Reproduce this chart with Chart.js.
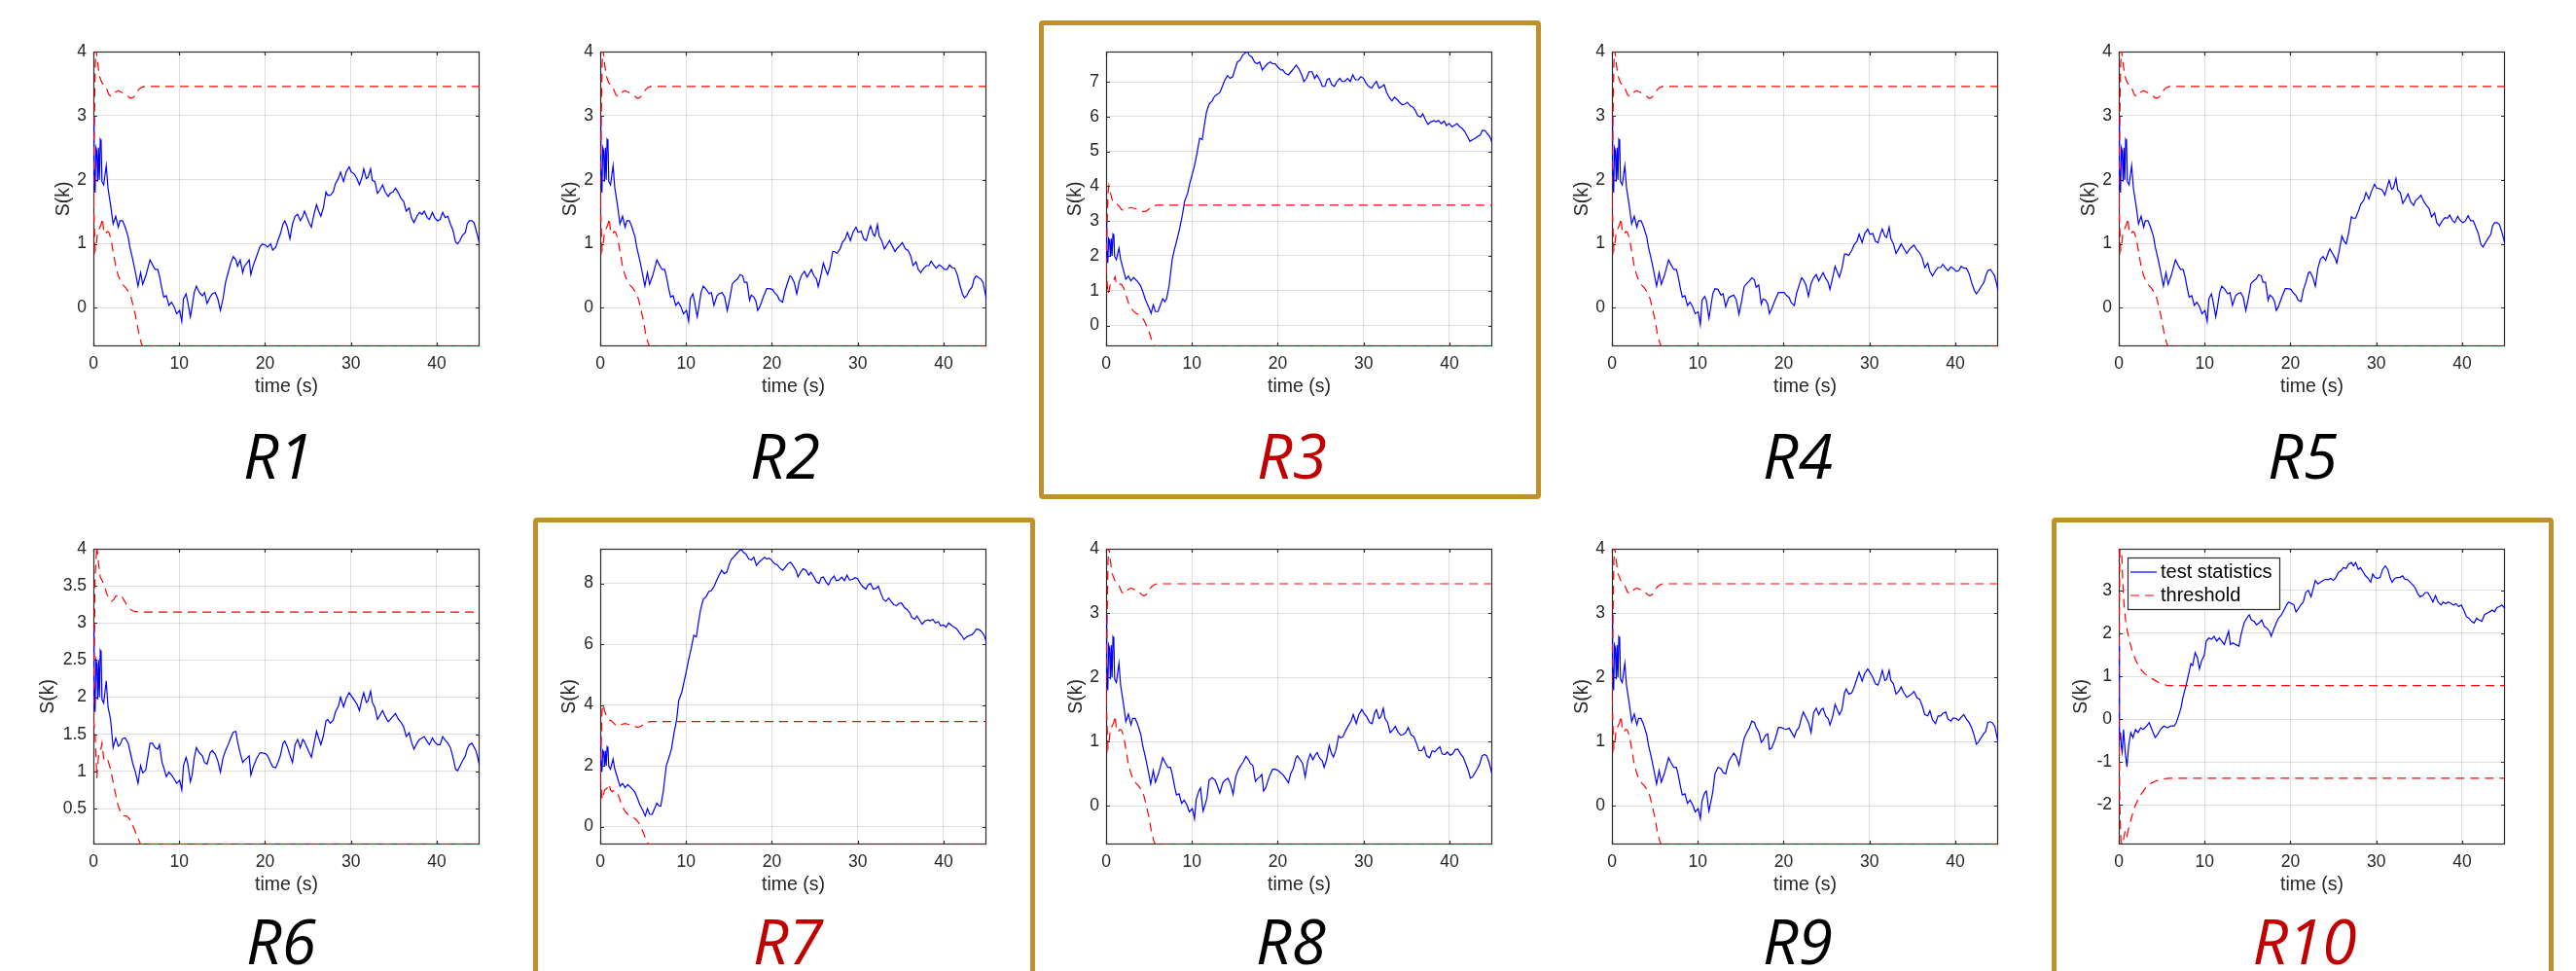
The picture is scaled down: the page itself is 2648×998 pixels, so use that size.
<!DOCTYPE html>
<html><head><meta charset="utf-8">
<script src="https://cdn.jsdelivr.net/npm/chart.js@4.4.0/dist/chart.umd.min.js"></script>
<style>
html,body{margin:0;padding:0;background:#fff;}
body{width:2648px;height:998px;position:relative;overflow:hidden;}
canvas{position:absolute;}
.box{position:absolute;border:5px solid #BF912D;border-radius:4px;box-sizing:border-box;}
.lbl{position:absolute;font-family:'Open Sans',sans-serif;font-style:italic;font-size:64px;line-height:64px;white-space:nowrap;transform:translateX(-50%);}
</style></head><body>
<script>
// ---------- axis ticks ----------
const xTicks = [0,10,20,30,40];
const yTicksA = [0,1,2,3,4];
const yTicksR3 = [0,1,2,3,4,5,6,7];
const yTicksR6 = [0.5,1,1.5,2,2.5,3,3.5,4];
const yTicksR7 = [0,2,4,6,8];
const yTicksR10 = [-2,-1,0,1,2,3];

// ---------- time grids (s) ----------
const timeA = [0,0.05,0.1,0.2,0.3,0.4,0.5,0.6,0.7,0.8,
0.9,1.0,1.2,1.5,1.7,2.0,2.3,2.6,2.9,3.1,
3.4,3.7,4.05,4.25,4.6,4.9,5.2,5.5,5.75,6.1,
6.6,6.9,7.2,7.5,7.7,8.0,8.2,8.5,8.8,9.1,
9.4,9.7,10.05,10.3,10.5,10.8,11.0,11.3,11.5,11.75,
12.0,12.35,12.7,12.95,13.25,13.6,13.85,14.2,14.5,14.8,
15.1,15.4,15.7,16.0,16.3,16.6,16.8,17.1,17.4,17.6,
17.9,18.15,18.35,18.6,19.0,19.4,19.7,20.05,20.3,20.65,
20.9,21.25,21.5,21.8,22.1,22.3,22.6,22.9,23.2,23.5,
23.8,24.1,24.4,24.6,24.9,25.2,25.4,25.7,26.0,26.25,
26.5,26.8,27.1,27.3,27.6,27.95,28.2,28.55,28.8,29.15,
29.45,29.8,30.05,30.4,30.7,31.0,31.3,31.5,31.8,32.0,
32.3,32.5,32.8,33.1,33.4,33.7,34.0,34.35,34.6,34.9,
35.2,35.55,35.85,36.15,36.45,36.8,37.05,37.35,37.7,38.0,
38.3,38.55,38.9,39.15,39.5,39.75,40.1,40.4,40.7,41.0,
41.3,41.6,41.9,42.2,42.45,42.7,43.0,43.35,43.55,43.8,
44.1,44.35,44.6,45.0];

const timeD = [0,0.05,0.1,0.2,0.3,0.4,0.5,0.6,0.7,0.8,
0.9,1.0,1.2,1.5,1.7,2.0,2.3,2.6,2.9,3.2,
3.6,4.0,4.3,4.6,4.95,5.25,5.5,5.75,6.05,6.25,
6.6,6.85,7.05,7.35,7.7,7.95,8.3,8.6,8.9,9.15,
9.5,9.75,10.0,10.3,10.6,10.9,11.2,11.45,11.7,12.0,
12.35,12.65,12.95,13.25,13.55,13.85,14.15,14.45,14.75,15.05,
15.3,15.6,15.9,16.2,16.45,16.7,17.0,17.3,17.6,17.9,
18.2,18.5,18.8,19.15,19.4,19.7,20.0,20.35,20.6,20.9,
21.25,21.55,21.85,22.15,22.45,22.8,23.05,23.35,23.65,24.0,
24.3,24.55,24.9,25.2,25.5,25.75,26.0,26.3,26.6,26.9,
27.25,27.5,27.8,28.15,28.45,28.75,29.05,29.4,29.7,30.0,
30.3,30.6,30.95,31.2,31.5,31.8,32.15,32.4,32.7,33.0,
33.3,33.6,33.9,34.2,34.55,34.8,35.1,35.45,35.75,36.05,
36.3,36.65,36.9,37.25,37.5,37.85,38.2,38.45,38.75,39.05,
39.4,39.65,40.0,40.3,40.6,40.9,41.2,41.5,41.8,42.1,
42.4,42.7,43.05,43.3,43.6,43.85,44.15,44.4,44.7,45.0];

const timeE = [0,0.05,0.1,0.2,0.3,0.4,0.55,0.75,0.95,1.15,
1.4,1.65,1.95,2.25,2.55,2.85,3.25,3.55,3.85,4.25,
4.55,4.85,5.25,5.65,6.05,6.45,6.7,6.95,7.25,7.5,
7.8,8.15,8.4,8.6,8.9,9.15,9.4,9.65,9.95,10.2,
10.5,10.8,11.1,11.4,11.7,12.0,12.3,12.6,12.8,13.0,
13.3,13.6,14.0,14.25,14.6,14.9,15.2,15.45,15.75,16.05,
16.35,16.65,16.95,17.25,17.55,17.75,18.05,18.35,18.6,18.95,
19.25,19.55,19.8,20.15,20.4,20.65,20.95,21.2,21.5,21.8,
22.1,22.4,22.65,22.9,23.2,23.5,23.8,24.1,24.4,24.7,
25.0,25.3,25.6,25.9,26.15,26.5,26.75,27.1,27.35,27.6,
27.9,28.15,28.5,28.75,29.05,29.35,29.6,29.85,30.15,30.45,
30.75,31.05,31.35,31.6,31.85,32.15,32.45,32.75,33.05,33.35,
33.65,33.95,34.25,34.5,34.85,35.1,35.45,35.7,36.0,36.3,
36.6,36.9,37.2,37.55,37.8,38.1,38.4,38.75,39.0,39.3,
39.6,39.9,40.2,40.5,40.8,41.1,41.4,41.7,42.0,42.3,
42.6,42.9,43.2,43.5,43.8,44.05,44.35,44.65,45.0];

// ---------- test statistics ----------
const statR1 = [2.3,2.98,2.2,1.8,2.5,2.45,1.97,2.5,2.0,2.63,
2.6,1.97,1.92,2.22,1.87,1.61,1.31,1.43,1.26,1.36,
1.36,1.26,1.11,0.95,0.75,0.55,0.34,0.55,0.37,0.50,
0.75,0.67,0.60,0.60,0.50,0.29,0.17,0.19,0.04,0.09,
0.02,-0.09,-0.04,-0.21,0.14,0.22,0.09,-0.14,0.02,0.24,
0.34,0.24,0.19,0.24,0.07,0.17,0.22,0.24,0.14,-0.04,
0.14,0.40,0.55,0.70,0.80,0.75,0.65,0.75,0.55,0.65,
0.70,0.75,0.52,0.65,0.80,0.95,1.00,0.98,0.95,1.00,
0.90,0.95,1.05,1.16,1.31,1.36,1.26,1.08,1.31,1.43,
1.46,1.36,1.43,1.51,1.41,1.31,1.26,1.46,1.61,1.51,
1.43,1.56,1.81,1.76,1.76,1.81,1.94,2.02,2.12,1.97,
2.12,2.20,2.12,2.09,2.02,1.92,2.04,2.17,2.02,2.04,
2.17,1.99,1.97,1.79,1.84,1.92,1.81,1.74,1.79,1.81,
1.87,1.79,1.71,1.66,1.51,1.56,1.41,1.33,1.43,1.49,
1.46,1.51,1.41,1.38,1.49,1.41,1.36,1.38,1.49,1.41,
1.43,1.31,1.21,1.03,1.00,1.05,1.13,1.18,1.31,1.36,
1.36,1.33,1.21,1.00];

const statR2 = [2.3,2.98,2.2,1.8,2.5,2.45,1.97,2.5,2.0,2.63,
2.6,1.97,1.92,2.22,1.87,1.61,1.31,1.43,1.26,1.36,
1.36,1.26,1.11,0.95,0.75,0.55,0.34,0.55,0.37,0.50,
0.75,0.67,0.60,0.60,0.50,0.29,0.17,0.19,0.04,0.09,
0.02,-0.09,-0.04,-0.21,0.14,0.22,0.09,-0.14,0.02,0.24,
0.34,0.29,0.22,0.24,0.04,0.19,0.22,0.24,0.17,-0.04,
0.15,0.38,0.42,0.45,0.52,0.50,0.40,0.40,0.12,0.20,
0.17,0.10,-0.04,0.02,0.17,0.30,0.30,0.29,0.24,0.19,
0.12,0.09,0.25,0.38,0.50,0.48,0.40,0.22,0.42,0.52,
0.57,0.48,0.55,0.60,0.50,0.45,0.33,0.50,0.70,0.60,
0.52,0.66,0.88,0.88,0.85,0.92,1.02,1.08,1.18,1.05,
1.18,1.26,1.18,1.20,1.08,1.05,1.20,1.28,1.15,1.12,
1.30,1.12,1.05,0.92,0.98,1.05,0.97,0.88,0.93,0.97,
1.02,0.92,0.90,0.82,0.66,0.72,0.60,0.55,0.62,0.66,
0.66,0.73,0.66,0.62,0.67,0.65,0.60,0.60,0.67,0.63,
0.62,0.52,0.36,0.22,0.16,0.19,0.27,0.33,0.45,0.50,
0.47,0.45,0.40,0.14];

const statR3 = [2.3,2.98,2.2,1.8,2.5,2.45,1.97,2.5,2.0,2.63,
2.6,1.98,1.89,2.22,1.89,1.61,1.33,1.42,1.28,1.38,
1.28,1.15,0.96,0.73,0.54,0.35,0.59,0.40,0.40,0.54,
0.77,0.68,0.77,1.15,1.89,2.17,2.50,2.82,3.19,3.57,
3.80,4.08,4.31,4.59,4.96,5.38,5.34,5.75,6.13,6.36,
6.45,6.59,6.64,6.69,6.87,7.06,7.18,7.10,7.15,7.38,
7.57,7.62,7.76,7.83,7.87,7.76,7.71,7.57,7.52,7.57,
7.34,7.43,7.52,7.57,7.52,7.52,7.43,7.34,7.34,7.24,
7.20,7.29,7.38,7.48,7.38,7.20,7.01,7.10,7.29,7.29,
7.10,7.20,7.06,6.87,6.87,7.06,7.10,6.92,6.87,7.01,
7.10,7.01,7.01,7.10,7.01,7.20,7.06,7.06,7.15,7.10,
6.96,6.87,6.82,6.92,7.01,6.82,6.87,6.92,6.69,6.55,
6.45,6.56,6.50,6.41,6.34,6.36,6.41,6.31,6.27,6.17,
6.03,5.99,6.08,5.89,5.78,5.85,5.89,5.85,5.89,5.80,
5.87,5.75,5.80,5.71,5.75,5.80,5.71,5.66,5.57,5.43,
5.29,5.34,5.38,5.43,5.47,5.61,5.60,5.52,5.43,5.24];

const statR4 = [2.3,2.98,2.2,1.8,2.5,2.45,1.97,2.5,2.0,2.63,
2.6,1.97,1.92,2.22,1.87,1.61,1.31,1.43,1.26,1.36,
1.36,1.26,1.11,0.95,0.75,0.55,0.34,0.55,0.37,0.50,
0.75,0.67,0.60,0.60,0.50,0.29,0.17,0.19,0.04,0.09,
0.02,-0.09,-0.06,-0.26,0.12,0.18,0.12,-0.16,0.00,0.22,
0.30,0.29,0.20,0.22,0.02,0.16,0.18,0.20,0.12,-0.10,
0.10,0.33,0.38,0.42,0.47,0.44,0.32,0.36,0.06,0.14,
0.12,0.06,-0.09,-0.02,0.12,0.24,0.24,0.24,0.20,0.16,
0.08,0.04,0.22,0.35,0.47,0.44,0.36,0.18,0.38,0.47,
0.52,0.42,0.50,0.55,0.46,0.40,0.29,0.46,0.65,0.56,
0.48,0.62,0.84,0.84,0.82,0.90,0.98,1.04,1.15,1.02,
1.16,1.23,1.15,1.16,1.04,1.02,1.16,1.23,1.12,1.10,
1.26,1.08,1.00,0.85,0.92,1.00,0.93,0.85,0.90,0.95,
0.98,0.90,0.86,0.78,0.63,0.70,0.57,0.50,0.58,0.63,
0.63,0.68,0.62,0.58,0.64,0.62,0.57,0.58,0.65,0.62,
0.62,0.54,0.40,0.28,0.22,0.26,0.33,0.40,0.50,0.58,
0.60,0.55,0.50,0.27];

const statR5 = [2.3,2.98,2.2,1.8,2.5,2.45,1.97,2.5,2.0,2.63,
2.6,1.97,1.92,2.22,1.87,1.61,1.31,1.43,1.26,1.36,
1.36,1.26,1.11,0.95,0.75,0.55,0.34,0.55,0.37,0.50,
0.75,0.67,0.60,0.60,0.50,0.29,0.17,0.19,0.04,0.09,
0.02,-0.09,-0.04,-0.21,0.14,0.22,0.09,-0.14,0.02,0.24,
0.34,0.29,0.22,0.24,0.04,0.19,0.22,0.24,0.17,-0.04,
0.15,0.38,0.42,0.45,0.52,0.50,0.40,0.40,0.12,0.20,
0.17,0.10,-0.04,0.02,0.17,0.30,0.30,0.29,0.24,0.19,
0.12,0.10,0.28,0.40,0.55,0.56,0.48,0.34,0.62,0.76,
0.80,0.74,0.86,0.92,0.85,0.78,0.70,0.90,1.12,1.04,
1.00,1.18,1.42,1.40,1.40,1.52,1.62,1.68,1.80,1.70,
1.82,1.93,1.87,1.86,1.84,1.76,1.90,1.99,1.85,1.87,
2.02,1.84,1.80,1.63,1.70,1.78,1.66,1.60,1.68,1.71,
1.76,1.66,1.60,1.55,1.42,1.48,1.33,1.28,1.36,1.41,
1.40,1.45,1.36,1.33,1.43,1.37,1.33,1.36,1.44,1.36,
1.36,1.26,1.16,0.99,0.95,1.01,1.08,1.15,1.28,1.33,
1.33,1.30,1.20,1.00];

const statR6 = [2.3,2.98,2.2,1.8,2.5,2.45,1.97,2.5,2.0,2.63,
2.6,1.97,1.92,2.22,1.87,1.70,1.32,1.45,1.34,1.36,
1.44,1.45,1.38,1.28,1.10,0.99,0.84,1.08,0.98,1.02,
1.38,1.38,1.32,1.30,1.36,1.12,1.05,0.93,0.99,0.95,
0.90,0.84,0.88,0.75,1.08,1.19,1.10,0.86,0.95,1.18,
1.32,1.25,1.21,1.12,1.10,1.25,1.28,1.23,1.14,0.99,
1.18,1.28,1.36,1.45,1.53,1.54,1.40,1.25,1.12,1.15,
1.18,1.21,0.95,1.05,1.17,1.25,1.25,1.24,1.21,1.12,
1.06,1.05,1.12,1.22,1.38,1.41,1.33,1.22,1.12,1.36,
1.43,1.32,1.43,1.40,1.32,1.24,1.19,1.36,1.54,1.45,
1.36,1.48,1.68,1.70,1.65,1.69,1.80,1.88,2.00,1.87,
1.98,2.06,2.02,1.96,1.91,1.82,1.98,2.06,1.93,1.95,
2.08,1.93,1.86,1.70,1.76,1.82,1.74,1.67,1.70,1.74,
1.78,1.70,1.66,1.60,1.47,1.52,1.40,1.30,1.38,1.43,
1.45,1.47,1.40,1.36,1.45,1.40,1.36,1.36,1.47,1.42,
1.38,1.32,1.19,1.03,1.01,1.07,1.14,1.21,1.30,1.36,
1.38,1.33,1.27,1.08];

const statR7 = [2.3,2.98,2.2,1.8,2.5,2.45,1.97,2.5,2.0,2.63,
2.6,1.98,1.89,2.22,1.89,1.61,1.33,1.42,1.28,1.38,
1.28,1.15,0.96,0.73,0.54,0.35,0.59,0.41,0.40,0.54,
0.77,0.68,0.67,1.16,2.01,2.22,2.55,3.08,3.51,4.15,
4.42,4.74,5.06,5.49,5.86,6.29,6.24,6.72,7.14,7.47,
7.57,7.73,7.76,7.89,8.09,8.27,8.43,8.32,8.37,8.64,
8.80,8.88,8.98,9.07,9.12,9.02,8.96,8.80,8.77,8.86,
8.59,8.70,8.77,8.86,8.80,8.83,8.75,8.64,8.62,8.51,
8.43,8.53,8.64,8.70,8.59,8.43,8.21,8.37,8.48,8.43,
8.27,8.37,8.21,8.05,8.00,8.19,8.21,8.05,7.95,8.13,
8.24,8.09,8.11,8.21,8.09,8.27,8.11,8.13,8.19,8.16,
8.00,7.89,7.81,7.95,8.00,7.81,7.84,7.91,7.68,7.47,
7.41,7.52,7.41,7.30,7.27,7.34,7.36,7.20,7.14,7.04,
6.88,6.82,6.93,6.77,6.66,6.77,6.80,6.77,6.82,6.70,
6.74,6.61,6.63,6.56,6.70,6.63,6.56,6.52,6.40,6.29,
6.16,6.24,6.29,6.31,6.40,6.50,6.48,6.42,6.31,6.07];

const statR8 = [2.3,2.98,2.2,1.8,2.5,2.45,1.97,2.5,2.0,2.63,
2.6,1.97,1.92,2.22,1.87,1.61,1.31,1.43,1.26,1.36,
1.36,1.26,1.11,0.95,0.75,0.55,0.34,0.55,0.37,0.50,
0.75,0.67,0.60,0.60,0.50,0.29,0.17,0.19,0.04,0.09,
0.02,-0.09,-0.04,-0.20,0.10,0.23,0.28,-0.08,0.00,0.12,
0.40,0.44,0.40,0.32,0.20,0.36,0.40,0.43,0.34,0.18,
0.45,0.56,0.63,0.69,0.77,0.72,0.66,0.63,0.38,0.42,
0.45,0.49,0.23,0.28,0.45,0.57,0.57,0.55,0.52,0.48,
0.43,0.36,0.50,0.58,0.74,0.78,0.72,0.66,0.45,0.70,
0.81,0.72,0.80,0.83,0.74,0.70,0.60,0.72,0.94,0.82,
0.76,0.88,1.09,1.06,1.08,1.18,1.24,1.32,1.42,1.28,
1.42,1.50,1.44,1.38,1.30,1.28,1.45,1.50,1.36,1.38,
1.52,1.36,1.30,1.14,1.18,1.24,1.15,1.10,1.11,1.14,
1.22,1.10,1.08,0.98,0.86,0.86,0.92,0.78,0.75,0.86,
0.84,0.88,0.92,0.81,0.80,0.84,0.79,0.81,0.88,0.88,
0.81,0.76,0.66,0.55,0.43,0.45,0.52,0.60,0.66,0.78,
0.80,0.78,0.69,0.48];

const statR9 = [2.3,2.98,2.2,1.8,2.5,2.45,1.97,2.5,2.0,2.63,
2.6,1.97,1.92,2.22,1.87,1.61,1.31,1.43,1.26,1.36,
1.36,1.26,1.11,0.95,0.75,0.55,0.34,0.55,0.37,0.50,
0.75,0.67,0.60,0.60,0.50,0.29,0.17,0.19,0.04,0.09,
0.02,-0.09,-0.04,-0.20,0.08,0.20,0.23,-0.08,0.05,0.22,
0.50,0.60,0.58,0.52,0.50,0.69,0.75,0.82,0.76,0.63,
0.85,1.05,1.14,1.21,1.32,1.30,1.22,1.15,0.99,1.02,
1.10,1.12,0.88,0.90,1.03,1.22,1.22,1.20,1.19,1.21,
1.15,1.07,1.17,1.22,1.38,1.46,1.38,1.30,1.14,1.45,
1.52,1.42,1.50,1.52,1.40,1.36,1.26,1.38,1.58,1.50,
1.42,1.50,1.76,1.82,1.74,1.76,1.84,1.98,2.08,1.94,
2.06,2.13,2.08,2.00,1.90,1.88,2.00,2.11,1.95,1.97,
2.11,1.95,1.90,1.74,1.78,1.85,1.76,1.69,1.71,1.74,
1.78,1.68,1.66,1.56,1.42,1.40,1.48,1.34,1.28,1.40,
1.40,1.44,1.46,1.35,1.32,1.37,1.36,1.33,1.38,1.42,
1.35,1.30,1.22,1.10,0.96,0.99,1.06,1.13,1.16,1.30,
1.31,1.29,1.24,0.99];

const statR10 = [1.70,0.60,-0.50,-0.31,-0.65,-0.77,-0.24,-0.77,-1.11,-0.62,
-0.31,-0.43,-0.24,-0.31,-0.20,-0.24,-0.16,-0.08,-0.24,-0.43,
-0.35,-0.24,-0.16,-0.20,-0.16,-0.16,-0.08,0.07,0.26,0.53,
0.75,1.06,1.29,1.25,1.55,1.44,1.17,1.36,1.48,1.82,
1.89,1.86,1.93,1.82,1.89,1.82,1.74,1.93,2.05,1.74,
1.78,1.74,1.70,1.97,2.24,2.35,2.43,2.31,2.28,2.20,
2.24,2.31,2.16,2.12,2.05,1.93,2.09,2.24,2.35,2.43,
2.54,2.66,2.73,2.69,2.66,2.50,2.58,2.66,2.73,2.96,
3.00,2.85,3.04,3.23,3.15,3.19,3.23,3.26,3.25,3.28,
3.23,3.30,3.42,3.46,3.53,3.51,3.61,3.65,3.57,3.65,
3.49,3.53,3.42,3.34,3.28,3.19,3.38,3.30,3.28,3.30,
3.49,3.57,3.49,3.30,3.19,3.28,3.30,3.30,3.34,3.26,
3.25,3.19,3.13,3.07,2.92,2.85,2.88,2.95,2.95,2.85,
2.73,2.88,2.73,2.66,2.73,2.69,2.73,2.69,2.66,2.69,
2.62,2.66,2.54,2.39,2.35,2.28,2.24,2.35,2.31,2.28,
2.43,2.47,2.50,2.54,2.50,2.60,2.62,2.66,2.58];

// ---------- thresholds ----------
const thrUpTimeA = [0,0.1,0.22,0.33,0.5,0.7,1.0,1.3,1.6,1.8,2.05,2.3,2.6,2.9,3.2,3.55,3.9,4.2,4.4,4.7,5.0,5.3,5.6,5.9,45];
const thrUpA = [1.7,2.8,3.8,4.02,3.82,3.62,3.51,3.48,3.40,3.33,3.30,3.33,3.37,3.39,3.37,3.35,3.32,3.28,3.27,3.29,3.35,3.41,3.44,3.455,3.455];
const thrLowTimeA = [0,0.1,0.22,0.35,0.5,0.7,0.9,1.05,1.2,1.4,1.6,1.8,2.05,2.3,2.6,2.9,3.2,3.5,3.8,4.1,4.4,4.7,5.0,5.3,5.6,5.8,45];
const thrLowA = [1.7,1.3,0.9,1.0,1.2,1.24,1.3,1.40,1.2,1.15,1.19,1.18,1.08,0.88,0.65,0.50,0.41,0.35,0.31,0.25,0.16,0.0,-0.18,-0.41,-0.56,-0.6,-0.6];

const thrUpTimeB = [0,0.1,0.2,0.4,0.6,0.8,1.2,1.6,2.1,2.4,2.6,3.0,3.25,3.6,3.85,4.2,4.45,4.8,5.25,5.8,45];
const thrUpB = [1.7,2.7,3.6,4.05,3.8,3.62,3.53,3.38,3.29,3.32,3.36,3.38,3.37,3.30,3.25,3.20,3.17,3.155,3.148,3.146,3.146];
const thrLowTimeB = [0,0.1,0.2,0.4,0.6,0.8,1.0,1.2,1.6,2.0,2.45,2.85,3.25,3.6,3.85,4.2,4.45,5.05,5.5,45];
const thrLowB = [1.7,1.6,1.52,0.91,1.21,1.25,1.38,1.17,1.19,1.03,0.77,0.55,0.42,0.40,0.40,0.36,0.31,0.14,0.02,0.015];

const thrUpTimeC = [0,0.05,0.12,0.2,0.3,0.45,0.6,0.8,1.0,1.3,1.6,2.0,2.5,3.0,3.5,4.0,4.5,5.0,5.6,6.0,45];
const thrUpC = [0.7,2.0,3.9,4.3,4.1,3.3,2.7,2.3,2.05,1.78,1.56,1.36,1.18,1.06,0.99,0.93,0.87,0.82,0.79,0.785,0.785];
const thrLowTimeC = [0,0.05,0.12,0.25,0.4,0.55,0.75,0.95,1.2,1.5,1.9,2.3,2.7,3.2,3.7,4.3,4.9,5.6,6.0,45];
const thrLowC = [0.7,-0.8,-2.0,-2.85,-2.92,-2.8,-2.6,-2.72,-2.5,-2.28,-2.02,-1.85,-1.72,-1.58,-1.50,-1.44,-1.40,-1.38,-1.375,-1.375];

// ---------- layout / style ----------
const AX = 80, AXH = 60, PT = 20, PR = 20;
const TXT = '#262626', GRID = 'rgba(38,38,38,0.15)';
const BLUE = '#0000FF', RED = '#FF0000', HL = '#C00000';
const thrA = {ut: thrUpTimeA, u: thrUpA, lt: thrLowTimeA, l: thrLowA};
const thrB = {ut: thrUpTimeB, u: thrUpB, lt: thrLowTimeB, l: thrLowB};
const thrC = {ut: thrUpTimeC, u: thrUpC, lt: thrLowTimeC, l: thrLowC};

const panels = [
 {name:'R1', x:96,  y:53,  w:397, h:303, t:timeA, s:statR1, thr:thrA, yMin:-0.6, yMax:4, yt:yTicksA, gap:30, lx:286, base:493, hl:false},
 {name:'R2', x:617, y:53,  w:397, h:303, t:timeA, s:statR2, thr:thrA, yMin:-0.6, yMax:4, yt:yTicksA, gap:30, lx:807, base:493, hl:false},
 {name:'R3', x:1137,y:53,  w:397, h:303, t:timeD, s:statR3, thr:thrA, yMin:-0.6, yMax:7.87, yt:yTicksR3, gap:31, lx:1328, base:493, hl:true},
 {name:'R4', x:1657,y:53,  w:397, h:303, t:timeA, s:statR4, thr:thrA, yMin:-0.6, yMax:4, yt:yTicksA, gap:30, lx:1848, base:493, hl:false},
 {name:'R5', x:2178,y:53,  w:397, h:303, t:timeA, s:statR5, thr:thrA, yMin:-0.6, yMax:4, yt:yTicksA, gap:30, lx:2367, base:493, hl:false},
 {name:'R6', x:96,  y:564, w:397, h:304, t:timeA, s:statR6, thr:thrB, yMin:0.015, yMax:4, yt:yTicksR6, gap:46, lx:289, base:992, hl:false},
 {name:'R7', x:617, y:564, w:397, h:304, t:timeD, s:statR7, thr:thrA, yMin:-0.59, yMax:9.14, yt:yTicksR7, gap:31, lx:810, base:992, hl:true},
 {name:'R8', x:1137,y:564, w:397, h:304, t:timeA, s:statR8, thr:thrA, yMin:-0.6, yMax:4, yt:yTicksA, gap:30, lx:1327, base:992, hl:false},
 {name:'R9', x:1657,y:564, w:397, h:304, t:timeA, s:statR9, thr:thrA, yMin:-0.6, yMax:4, yt:yTicksA, gap:30, lx:1848, base:992, hl:false},
 {name:'R10',x:2178,y:564, w:397, h:304, t:timeE, s:statR10, thr:thrC, yMin:-2.92, yMax:3.97, yt:yTicksR10, gap:38, lx:2369, base:992, hl:true, legend:true}
];

Chart.defaults.font.family = '"Liberation Sans", Arial, Helvetica, sans-serif';

const framePlugin = {
  id: 'frame',
  beforeDatasetsDraw(chart) {
    const {ctx, chartArea: a, scales} = chart;
    ctx.save();
    ctx.strokeStyle = '#2b2b2b';
    ctx.lineWidth = 1.2;
    ctx.strokeRect(a.left + 0.5, a.top + 0.5, a.right - a.left - 1, a.bottom - a.top - 1);
    const tl = 4;
    ctx.beginPath();
    scales.x.ticks.forEach(tk => {
      const px = Math.round(scales.x.getPixelForValue(tk.value)) + 0.5;
      ctx.moveTo(px, a.bottom); ctx.lineTo(px, a.bottom - tl);
      ctx.moveTo(px, a.top); ctx.lineTo(px, a.top + tl);
    });
    scales.y.ticks.forEach(tk => {
      const py = Math.round(scales.y.getPixelForValue(tk.value)) + 0.5;
      ctx.moveTo(a.left, py); ctx.lineTo(a.left + tl, py);
      ctx.moveTo(a.right, py); ctx.lineTo(a.right - tl, py);
    });
    ctx.stroke();
    ctx.restore();
  },
  afterDatasetsDraw(chart, args, opts) {
    if (!opts || !opts.legend) return;
    const {ctx, chartArea: a} = chart;
    const ds = chart.data.datasets;
    const items = [ds[0], ds[1]];
    const x0 = a.left + 9, y0 = a.top + 9, w = 156, h = 53;
    ctx.save();
    ctx.fillStyle = '#fff';
    ctx.fillRect(x0, y0, w, h);
    ctx.strokeStyle = '#2b2b2b';
    ctx.lineWidth = 1.2;
    ctx.strokeRect(x0 + 0.5, y0 + 0.5, w, h);
    items.forEach((d, i) => {
      const yy = y0 + 15 + i * 24;
      ctx.strokeStyle = d.borderColor;
      ctx.lineWidth = d.borderWidth;
      ctx.setLineDash(d.borderDash || []);
      ctx.beginPath(); ctx.moveTo(x0 + 3, yy); ctx.lineTo(x0 + 30, yy); ctx.stroke();
      ctx.setLineDash([]);
      ctx.fillStyle = '#000';
      ctx.font = '20px "Liberation Sans", Arial, sans-serif';
      ctx.textBaseline = 'middle';
      ctx.fillText(d.label, x0 + 34, yy);
    });
    ctx.restore();
  }
};

function pts(ts, vs) { return ts.map((t, i) => ({x: t, y: vs[i]})); }

panels.forEach(p => {
  // highlight frame
  if (p.hl) {
    const b = document.createElement('div');
    b.className = 'box';
    b.style.left = (p.x - 69) + 'px';
    b.style.top = (p.y - 32) + 'px';
    b.style.width = (p.w + 119) + 'px';
    b.style.height = (p.y < 300 ? 492 : 520) + 'px';
    document.body.appendChild(b);
  }
  const cv = document.createElement('canvas');
  const W = p.w + AX + PR, H = p.h + PT + AXH;
  cv.width = W; cv.height = H;
  cv.style.width = W + 'px'; cv.style.height = H + 'px';
  cv.style.left = (p.x - AX) + 'px';
  cv.style.top = (p.y - PT) + 'px';
  document.body.appendChild(cv);

  const lbl = document.createElement('div');
  lbl.className = 'lbl';
  lbl.textContent = p.name;
  lbl.style.left = p.lx + 'px';
  lbl.style.top = (p.base - 57) + 'px';
  lbl.style.color = p.hl ? HL : '#000';
  document.body.appendChild(lbl);

  new Chart(cv.getContext('2d'), {
    type: 'line',
    data: {
      datasets: [
        {label: 'test statistics', data: pts(p.t, p.s), borderColor: BLUE, borderWidth: 1.2, pointRadius: 0, tension: 0, order: 1},
        {label: 'threshold', data: pts(p.thr.ut, p.thr.u), borderColor: RED, borderWidth: 1.2, borderDash: [9, 6], pointRadius: 0, tension: 0, order: 0},
        {label: 'threshold', data: pts(p.thr.lt, p.thr.l), borderColor: RED, borderWidth: 1.2, borderDash: [9, 6], pointRadius: 0, tension: 0, order: 0}
      ]
    },
    options: {
      responsive: false, animation: false, devicePixelRatio: 1,
      layout: {padding: {left: 0, top: PT, right: PR, bottom: 0}},
      plugins: {legend: {display: false}, tooltip: {enabled: false}, frame: {legend: !!p.legend}},
      scales: {
        x: {
          type: 'linear', min: 0, max: 45,
          afterBuildTicks: s => { s.ticks = xTicks.map(v => ({value: v})); },
          afterFit: s => { s.height = AXH; },
          grid: {color: GRID, lineWidth: 1, drawTicks: false},
          border: {display: false},
          ticks: {color: TXT, font: {size: 17.5}, padding: 7.5, maxRotation: 0, autoSkip: false, callback: v => String(v)},
          title: {display: true, text: 'time (s)', color: TXT, font: {size: 19.5}, padding: {top: 0, bottom: 6.8}}
        },
        y: {
          type: 'linear', min: p.yMin, max: p.yMax,
          afterBuildTicks: s => { s.ticks = p.yt.map(v => ({value: v})); },
          afterFit: s => { s.width = AX; },
          grid: {color: GRID, lineWidth: 1, drawTicks: false},
          border: {display: false},
          ticks: {color: TXT, font: {size: 17.5}, padding: 7, autoSkip: false, callback: v => String(v)},
          title: {display: true, text: 'S(k)', color: TXT, font: {size: 19.5}, padding: {top: AX - p.gap - 11.7, bottom: 0}}
        }
      }
    },
    plugins: [framePlugin]
  });
});
</script>
</body></html>
